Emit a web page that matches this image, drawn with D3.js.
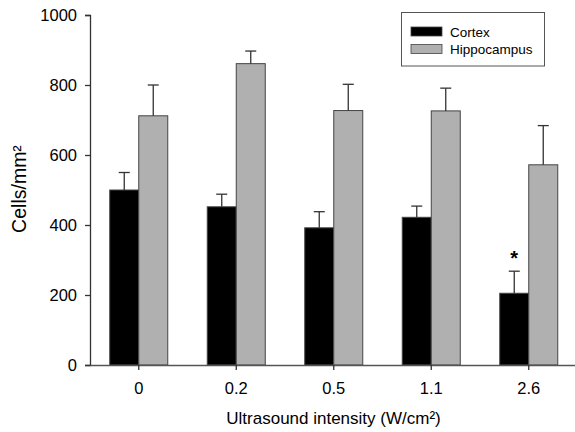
<!DOCTYPE html>
<html><head><meta charset="utf-8">
<script src="https://cdn.jsdelivr.net/npm/d3@7"></script>
<style>
body{margin:0;background:#fff;}
svg{display:block;font-family:"Liberation Sans",Arial,Helvetica,sans-serif;}
</style></head>
<body>
<svg id="chart" width="575" height="432"></svg>
<script>
const categories = ["0","0.2","0.5","1.1","2.6"];
const seriesNames = ["Cortex","Hippocampus"];
const cortexMean = [500,452,392,422,205];
const cortexErr = [50,36,46,32,63];
const hippoMean = [712,861,727,726,572];
const hippoErr = [88,36,75,65,112];
const yTicks = [0,200,400,600,800,1000];
const colors = ["#000000","#b0b0b0"];
const significance = ["","","","","*"];

const svg = d3.select("#chart");
const x0 = 90, x1 = 577.5, yBottom = 365, yTop = 15;
const x = d3.scaleBand().domain(categories).range([x0,x1]).paddingInner(0.405).paddingOuter(0.2025);
const y = d3.scaleLinear().domain([0,1000]).range([yBottom,yTop]);
const barW = 29;

const data = [
  {name:"Cortex", mean:cortexMean, err:cortexErr, color:colors[0], off:-barW},
  {name:"Hippocampus", mean:hippoMean, err:hippoErr, color:colors[1], off:0}
];

const cx = c => x(c) + x.bandwidth()/2;

// bars
data.forEach(s=>{
  const g = svg.append("g");
  g.selectAll("rect").data(categories).join("rect")
    .attr("x", c=>cx(c)+s.off)
    .attr("y", (c,i)=>y(s.mean[i]))
    .attr("width", barW)
    .attr("height", (c,i)=>y(0)-y(s.mean[i]))
    .attr("fill", s.color)
    .attr("stroke", "#444").attr("stroke-width",1);
  const eg = svg.append("g").attr("stroke","#333").attr("stroke-width",1.3);
  eg.selectAll("line.v").data(categories).join("line").attr("class","v")
    .attr("x1",c=>cx(c)+s.off+barW/2).attr("x2",c=>cx(c)+s.off+barW/2)
    .attr("y1",(c,i)=>y(s.mean[i])).attr("y2",(c,i)=>y(s.mean[i]+s.err[i]));
  eg.selectAll("line.h").data(categories).join("line").attr("class","h")
    .attr("x1",c=>cx(c)+s.off+barW/2-5.5).attr("x2",c=>cx(c)+s.off+barW/2+5.5)
    .attr("y1",(c,i)=>y(s.mean[i]+s.err[i])).attr("y2",(c,i)=>y(s.mean[i]+s.err[i]));
});

// significance
svg.append("g").selectAll("text").data(categories).join("text")
  .attr("x", c=>cx(c)-barW/2)
  .attr("y", (c,i)=>y(cortexMean[i]+cortexErr[i])-6)
  .attr("text-anchor","middle").attr("font-size",20).attr("font-weight","bold")
  .text((c,i)=>significance[i]);

// axes
const yAxis = d3.axisLeft(y).tickValues(yTicks).tickFormat(d=>String(d)).tickSize(5).tickPadding(8);
const gy = svg.append("g").attr("transform",`translate(${x0},0)`).call(yAxis);
gy.attr("font-size",16.5).attr("font-family","Liberation Sans, Arial, sans-serif");
gy.select(".domain").attr("stroke","#333").attr("stroke-width",1.3);
gy.selectAll(".tick line").attr("stroke","#333").attr("stroke-width",1.3);
gy.selectAll(".tick text").attr("font-size",16.5).attr("fill","#000");

const xAxis = d3.axisBottom(x).tickSize(5).tickPadding(12).tickSizeOuter(0);
const gx = svg.append("g").attr("transform",`translate(0,${yBottom})`).call(xAxis);
gx.attr("font-size",16.5).attr("font-family","Liberation Sans, Arial, sans-serif");
gx.select(".domain").attr("stroke","#555").attr("stroke-width",1.3);
gx.selectAll(".tick line").attr("stroke","#333").attr("stroke-width",1.3);
gx.selectAll(".tick text").attr("font-size",16.5).attr("fill","#000").attr("dy",null).attr("y",29);

// axis titles
svg.append("text").attr("x",(x0+575)/2+1).attr("y",424).attr("text-anchor","middle")
  .attr("font-size",17).text("Ultrasound intensity (W/cm²)");
svg.append("text").attr("transform","translate(26,189) rotate(-90)").attr("text-anchor","middle")
  .attr("font-size",19.5).text("Cells/mm²");

// legend
const lg = svg.append("g");
lg.append("rect").attr("x",401.5).attr("y",12.5).attr("width",143).attr("height",53.5)
  .attr("fill","#fff").attr("stroke","#555").attr("stroke-width",1);
seriesNames.forEach((n,i)=>{
  lg.append("rect").attr("x",411).attr("y",27+i*17.5).attr("width",31).attr("height",9)
    .attr("fill",colors[i]).attr("stroke","#444").attr("stroke-width",0.8);
  lg.append("text").attr("x",450).attr("y",36.5+i*17.5).attr("font-size",13.5).text(n);
});
</script>
</body></html>
